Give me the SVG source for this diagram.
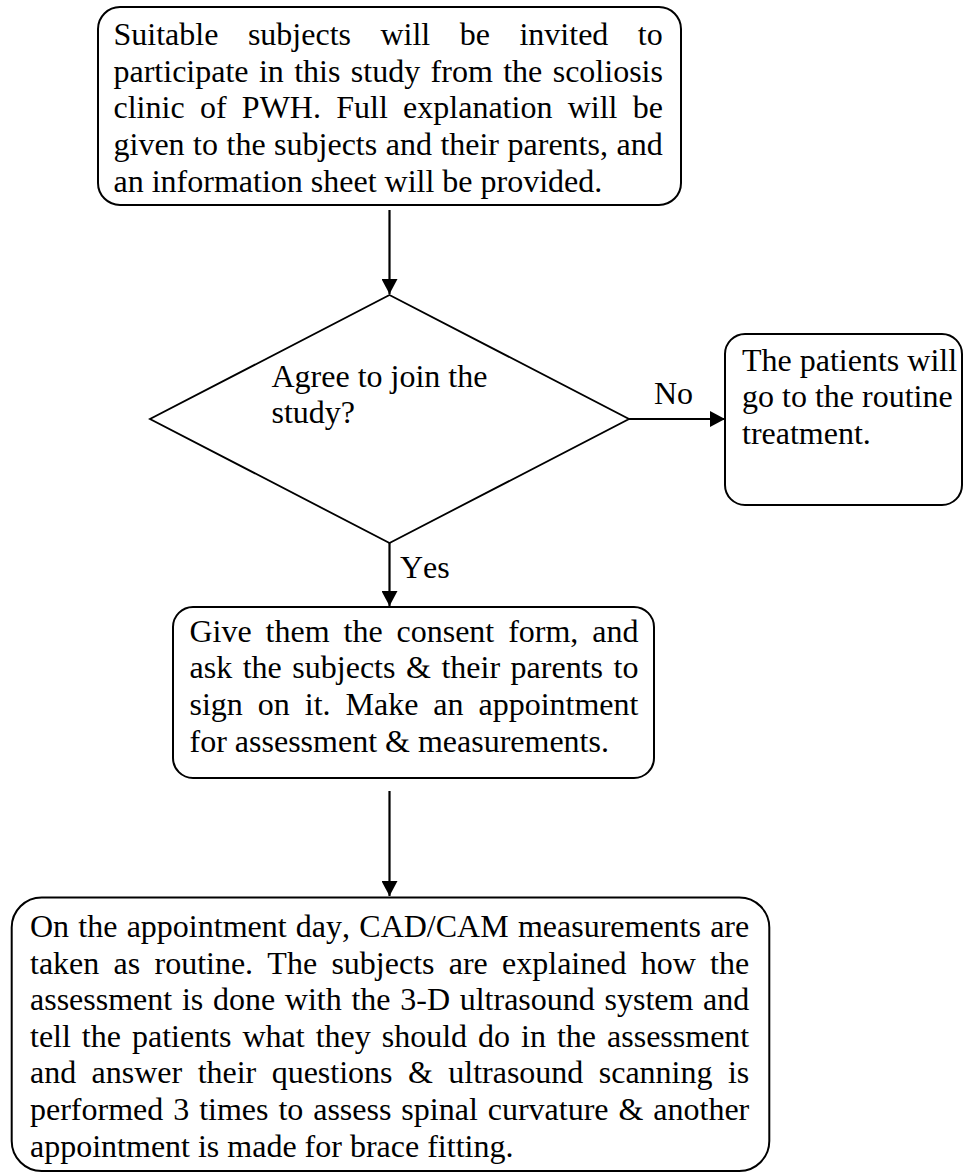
<svg xmlns="http://www.w3.org/2000/svg" width="964" height="1173" viewBox="0 0 964 1173">
  <style>
    .box { fill: #ffffff; stroke: #000000; stroke-width: 2; }
    .dia { fill: #ffffff; stroke: #000000; stroke-width: 1.8; }
    .txt { font-family: "Liberation Serif", "Times New Roman", serif; font-size: 32px; fill: #000000; font-kerning: none; }
    .wire { stroke: #000000; stroke-width: 2.2; fill: none; marker-end: url(#head); }
  </style>
  <defs>
    <marker id="head" markerUnits="userSpaceOnUse" markerWidth="16" markerHeight="16" refX="15" refY="8" orient="auto">
      <path d="M0,0 L15,8 L0,16 z" fill="#000000"/>
    </marker>
  </defs>

  <rect width="964" height="1173" fill="#ffffff"/>

  <!-- connectors -->
  <g id="connectors">
    <line class="wire" x1="389.5" y1="210" x2="389.5" y2="294"/>
    <line class="wire" x1="629" y1="419" x2="725" y2="419"/>
    <line class="wire" x1="389.5" y1="543" x2="389.5" y2="606"/>
    <line class="wire" x1="389.5" y1="791" x2="389.5" y2="896"/>
    <text class="txt" x="654" y="404">No</text>
    <text class="txt" x="400" y="577.5">Yes</text>
  </g>

  <!-- invitation -->
  <g id="invite">
    <rect class="box" x="98" y="7" width="583" height="198" rx="22" ry="22"/>
    <text class="txt" x="113.5" y="45" word-spacing="21.5">Suitable subjects will be invited to</text>
    <text class="txt" x="113.5" y="81.7" word-spacing="2.4">participate in this study from the scoliosis</text>
    <text class="txt" x="113.5" y="118.4" word-spacing="7.3">clinic of PWH. Full explanation will be</text>
    <text class="txt" x="113.5" y="155.1" word-spacing="0.5">given to the subjects and their parents, and</text>
    <text class="txt" x="113.5" y="191.8">an information sheet will be provided.</text>
  </g>

  <!-- decision -->
  <g id="decision">
    <polygon class="dia" points="389.5,295 629,419 389.5,543 150,419"/>
    <text class="txt" x="271.5" y="386.7">Agree to join the</text>
    <text class="txt" x="271.5" y="423.3">study?</text>
  </g>

  <!-- declined -->
  <g id="routine">
    <rect class="box" x="725" y="334" width="237" height="171" rx="20" ry="20"/>
    <text class="txt" x="742" y="370.5">The patients will</text>
    <text class="txt" x="742" y="407.2">go to the routine</text>
    <text class="txt" x="742" y="443.9">treatment.</text>
  </g>

  <!-- consent -->
  <g id="consent">
    <rect class="box" x="173" y="607" width="481" height="171" rx="20" ry="20"/>
    <text class="txt" x="189.5" y="641.7" word-spacing="5.9">Give them the consent form, and</text>
    <text class="txt" x="189.5" y="678.4" word-spacing="2.55">ask the subjects &amp; their parents to</text>
    <text class="txt" x="189.5" y="715.1" word-spacing="6.95">sign on it. Make an appointment</text>
    <text class="txt" x="189.5" y="751.8">for assessment &amp; measurements.</text>
  </g>

  <!-- appointment day -->
  <g id="appointment">
    <rect class="box" x="11.7" y="897.5" width="757.6" height="273.5" rx="30" ry="30"/>
    <text class="txt" x="30" y="937" word-spacing="1.23">On the appointment day, CAD/CAM measurements are</text>
    <text class="txt" x="30" y="973.6" word-spacing="6.26">taken as routine. The subjects are explained how the</text>
    <text class="txt" x="30" y="1010.2" word-spacing="1.7">assessment is done with the 3-D ultrasound system and</text>
    <text class="txt" x="30" y="1046.8" word-spacing="2.99">tell the patients what they should do in the assessment</text>
    <text class="txt" x="30" y="1083.4" word-spacing="7.4">and answer their questions &amp; ultrasound scanning is</text>
    <text class="txt" x="30" y="1120" word-spacing="1.93">performed 3 times to assess spinal curvature &amp; another</text>
    <text class="txt" x="30" y="1156.6">appointment is made for brace fitting.</text>
  </g>
</svg>
